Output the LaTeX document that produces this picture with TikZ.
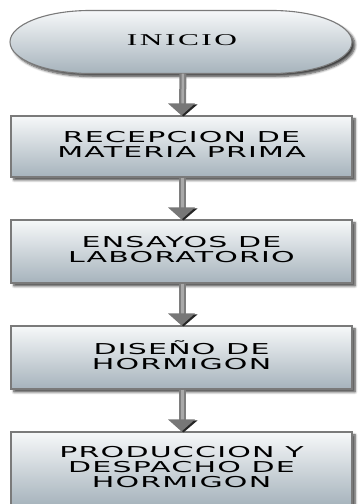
\documentclass[tikz,border=0pt]{standalone}
\usepackage{fontspec}
\usepackage{graphicx}
\usetikzlibrary{shadows.blur,calc}
\newfontfamily\boxfont[LetterSpace=4]{DejaVu Sans}
\newfontfamily\inifont[LetterSpace=8]{Liberation Serif}
\newcommand\widetext[2][2.0]{\scalebox{#1}[1]{\begin{tabular}{@{}c@{}}#2\end{tabular}}}
\definecolor{gtop}{HTML}{F6F8F9}
\definecolor{gbot}{HTML}{A6B3BC}
\definecolor{edge}{HTML}{7A7A7A}
\definecolor{shaftout}{HTML}{7E7E7E}
\definecolor{shaftin}{HTML}{A9A9A9}
\definecolor{tipgray}{HTML}{777777}
\tikzset{
  shadowed/.style={blur shadow={shadow xshift=3pt,shadow yshift=-3pt,shadow blur radius=2.5pt,shadow blur steps=6,shadow opacity=75}},
  procbox/.style={rectangle, shadowed, draw=edge, line width=1.1pt, top color=gtop, bottom color=gbot,
    minimum width=341pt, align=center, text=black,
    font=\boxfont\fontsize{15}{13.5}\selectfont, inner sep=0pt},
  startnode/.style={rectangle, minimum width=342pt, minimum height=63pt, inner sep=0pt,
    font=\inifont\fontsize{16.5}{18}\selectfont, text=black},
  shaftoutline/.style={draw=shaftout, line width=7pt},
  shaftcore/.style={draw=shaftin, line width=2.5pt},
}
\begin{document}
\begin{tikzpicture}[x=1pt,y=1pt]
\useasboundingbox (0,0) rectangle (360,504);
% start terminator
\path[shadowed, draw=edge, line width=1.1pt, top color=gtop, bottom color=gbot]
  (90,493.5) -- (272,493.5) arc[start angle=90,end angle=-90,x radius=80,y radius=31.5]
  -- (90,430.5) arc[start angle=270,end angle=90,x radius=80,y radius=31.5] -- cycle;
\node[startnode] (inicio) at (182,462) {\widetext[1.9]{INICIO}};
% process boxes
\node[procbox, minimum height=61pt] (b1) at (181.5,357.5) {\widetext{RECEPCION DE\\MATERIA PRIMA}};
\node[procbox, minimum height=63pt] (b2) at (181.5,252.5) {\widetext{ENSAYOS DE\\LABORATORIO}};
\node[procbox, minimum height=63pt] (b3) at (181.5,146.5) {\widetext{DISEÑO DE\\HORMIGON}};
\node[procbox, minimum height=74pt] (b4) at (181.5,35) {\widetext{PRODUCCION Y\\DESPACHO DE\\HORMIGON}};
% connectors
\foreach \a/\b in {inicio/b1,b1/b2,b2/b3,b3/b4}{
  \draw[shaftoutline] ([xshift=1pt]\a.south) -- ([xshift=1pt,yshift=11pt]\b.north);
  \draw[shaftcore] ([xshift=1pt]\a.south) -- ([xshift=1pt,yshift=11pt]\b.north);
  \fill[black!85] ([xshift=-11pt,yshift=11pt]\b.north) -- ([xshift=16pt,yshift=11pt]\b.north)
    -- ([xshift=2pt,yshift=-1pt]\b.north) -- cycle;
  \fill[tipgray] ([xshift=-13.5pt,yshift=12pt]\b.north) -- ([xshift=13.5pt,yshift=12pt]\b.north)
    -- (\b.north) -- cycle;
}
\end{tikzpicture}
\end{document}
